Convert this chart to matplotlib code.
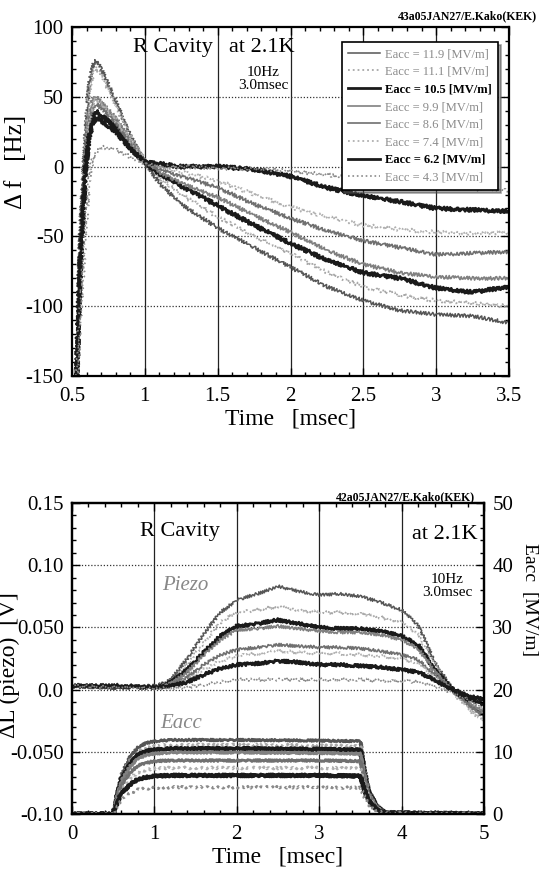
import matplotlib
matplotlib.use('Agg')
import matplotlib.pyplot as plt
from matplotlib.ticker import MultipleLocator, FixedLocator, FixedFormatter

plt.rcParams['font.family'] = ['Liberation Serif', 'DejaVu Serif']
plt.rcParams['axes.unicode_minus'] = False

# ---------------- data ----------------
EACC = [11.9, 11.1, 10.5, 9.9, 8.6, 7.4, 6.2, 4.3]

# top chart: detuning Δf [Hz] vs time [msec]
F_T = [0.53, 0.555, 0.59, 0.615, 0.64, 0.665, 0.7, 0.8, 0.9, 1.0, 1.1, 1.25,
       1.5, 1.75, 2.0, 2.25, 2.5, 2.75, 3.0, 3.25, 3.5]
DF_119 = [-155, -50, 19, 57, 72, 76, 70, 47, 22, 3, -12, -27, -44, -58, -72, -86, -96, -103, -106, -107, -112]
DF_111 = [-155, -60, 10, 50, 66, 71, 66, 44, 22, 4, -8, -20, -36, -50, -62, -76, -86, -92, -96, -98, -100]
DF_105 = [-155, -70, 0, 25, 35, 40, 37, 28, 15, 3, -5, -14, -28, -42, -55, -67, -76, -80, -87, -90, -86]
DF_99 = [-155, -65, 5, 35, 47, 50, 46, 35, 18, 4, -4, -12, -22, -35, -47, -60, -70, -76, -79, -80, -80]
DF_86 = [-155, -68, 2, 30, 42, 45, 42, 32, 17, 4, -2, -7, -15, -27, -37, -46, -53, -58, -63, -62, -61]
DF_74 = [-155, -66, 4, 33, 45, 48, 45, 34, 18, 5, 0, -4, -10, -20, -29, -36, -42, -45, -47, -48, -47]
DF_62 = [-155, -75, -5, 20, 30, 35, 33, 25, 13, 3, 2, 0, 0, -2, -7, -15, -21, -25, -30, -31, -32]
DF_43 = [-160, -110, -50, -10, 5, 10, 14, 12, 7, 2, 0, 0, -1, -2, -3, -6, -9, -12, -14, -16, -17]
DF_ALL = [DF_119, DF_111, DF_105, DF_99, DF_86, DF_74, DF_62, DF_43]

# bottom chart: piezo signal ΔL [V] vs time [msec]
P_T = [0, 0.5, 1.0, 1.2, 1.4, 1.6, 1.8, 2.0, 2.25, 2.5, 2.75, 3.0, 3.25, 3.5,
       3.75, 4.0, 4.2, 4.4, 4.6, 4.8, 5.0]
PZ_119 = [0.003, 0.004, 0.002, 0.008, 0.025, 0.045, 0.062, 0.072, 0.077, 0.083, 0.079, 0.076, 0.077, 0.075, 0.070, 0.064, 0.052, 0.022, 0.002, -0.012, -0.020]
PZ_111 = [0.004, 0.003, 0.003, 0.007, 0.020, 0.038, 0.054, 0.062, 0.064, 0.067, 0.064, 0.062, 0.062, 0.061, 0.058, 0.054, 0.045, 0.020, 0.001, -0.014, -0.024]
PZ_105 = [0.003, 0.002, 0.002, 0.006, 0.016, 0.030, 0.043, 0.051, 0.053, 0.056, 0.053, 0.050, 0.049, 0.049, 0.047, 0.043, 0.036, 0.016, 0.001, -0.005, -0.008]
PZ_99 = [0.002, 0.003, 0.003, 0.005, 0.014, 0.028, 0.040, 0.048, 0.049, 0.051, 0.049, 0.047, 0.046, 0.046, 0.044, 0.040, 0.033, 0.015, 0.000, -0.010, -0.018]
PZ_86 = [0.003, 0.002, 0.002, 0.004, 0.010, 0.020, 0.028, 0.032, 0.034, 0.036, 0.035, 0.034, 0.034, 0.033, 0.031, 0.028, 0.024, 0.012, 0.000, -0.012, -0.022]
PZ_74 = [0.002, 0.003, 0.002, 0.004, 0.008, 0.016, 0.023, 0.027, 0.029, 0.031, 0.030, 0.029, 0.029, 0.028, 0.027, 0.025, 0.021, 0.010, -0.001, -0.015, -0.026]
PZ_62 = [0.003, 0.003, 0.002, 0.003, 0.006, 0.012, 0.017, 0.020, 0.021, 0.023, 0.022, 0.020, 0.020, 0.019, 0.018, 0.016, 0.014, 0.008, 0.000, -0.008, -0.012]
PZ_43 = [0.003, 0.002, 0.001, 0.001, 0.002, 0.004, 0.006, 0.008, 0.008, 0.008, 0.008, 0.008, 0.008, 0.008, 0.007, 0.007, 0.006, 0.003, -0.002, -0.008, -0.015]
PZ_ALL = [PZ_119, PZ_111, PZ_105, PZ_99, PZ_86, PZ_74, PZ_62, PZ_43]

# bottom chart: accelerating field Eacc [MV/m] vs time [msec]
E_T = [0, 0.5, 0.55, 0.6, 0.7, 0.8, 0.9, 1.0, 1.2, 2.0, 3.0, 3.5, 3.55, 3.6, 3.7, 3.8, 5.0]
EA_119 = [0, 0, 3.6, 6.3, 9.1, 10.7, 11.4, 11.7, 11.9, 11.9, 11.8, 11.7, 7.5, 4.0, 1.4, 0.2, 0]
EA_111 = [0, 0, 3.4, 5.9, 8.5, 10.0, 10.6, 10.9, 11.1, 11.1, 11.0, 10.9, 7.0, 3.7, 1.3, 0.2, 0]
EA_105 = [0, 0, 3.2, 5.6, 8.0, 9.5, 10.1, 10.3, 10.5, 10.5, 10.4, 10.3, 6.6, 3.5, 1.2, 0.2, 0]
EA_99 = [0, 0, 3.0, 5.3, 7.6, 8.9, 9.5, 9.7, 9.9, 9.9, 9.8, 9.7, 6.2, 3.3, 1.1, 0.2, 0]
EA_86 = [0, 0, 2.6, 4.6, 6.6, 7.8, 8.2, 8.5, 8.6, 8.6, 8.6, 8.5, 5.4, 2.9, 1.0, 0.1, 0]
EA_74 = [0, 0, 2.2, 3.9, 5.7, 6.7, 7.1, 7.3, 7.4, 7.4, 7.4, 7.3, 4.7, 2.5, 0.9, 0.1, 0]
EA_62 = [0, 0, 1.9, 3.3, 4.7, 5.6, 5.9, 6.1, 6.2, 6.2, 6.2, 6.1, 3.9, 2.1, 0.7, 0.1, 0]
EA_43 = [0, 0, 1.3, 2.3, 3.3, 3.9, 4.1, 4.2, 4.3, 4.3, 4.3, 4.2, 2.7, 1.5, 0.5, 0.1, 0]
EA_ALL = [EA_119, EA_111, EA_105, EA_99, EA_86, EA_74, EA_62, EA_43]

F_XTICKS = [0.5, 1, 1.5, 2, 2.5, 3, 3.5]
F_XLABELS = ['0.5', '1', '1.5', '2', '2.5', '3', '3.5']
F_YTICKS = [-150, -100, -50, 0, 50, 100]
P_XTICKS = [0, 1, 2, 3, 4, 5]
P_YTICKS = [-0.10, -0.05, 0.0, 0.05, 0.10, 0.15]
P_YLABELS = ['-0.10', '-0.050', '0.0', '0.050', '0.10', '0.15']
E_YTICKS = [0, 10, 20, 30, 40, 50]

# ---------------- styles ----------------
STYLES = [
    dict(color='#555555', lw=1.1, ls='-'),
    dict(color='#a8a8a8', lw=1.3, ls=':'),
    dict(color='#1a1a1a', lw=2.0, ls='-'),
    dict(color='#808080', lw=1.2, ls='-'),
    dict(color='#707070', lw=1.2, ls='-'),
    dict(color='#b0b0b0', lw=1.3, ls=':'),
    dict(color='#1a1a1a', lw=2.0, ls='-'),
    dict(color='#8a8a8a', lw=1.2, ls=':'),
]
BOLD = [False, False, True, False, False, False, True, False]
TICK_FS = 15

W, H = 539, 877
fig = plt.figure(figsize=(W / 100, H / 100), dpi=100)


def frac(x0, y0, x1, y1):
    return [x0 / W, 1 - y1 / H, (x1 - x0) / W, (y1 - y0) / H]


def style_axes(ax):
    for s in ax.spines.values():
        s.set_linewidth(1.6)
    ax.tick_params(which='both', direction='in', top=True, right=True,
                   labelsize=TICK_FS, width=1.0)
    ax.tick_params(which='major', length=6)
    ax.tick_params(which='minor', length=3)
    ax.tick_params(axis='x', which='major', pad=8)
    ax.tick_params(axis='y', which='major', pad=6)


# ---------------- top chart ----------------
AX1_L, AX1_R, AX1_T, AX1_B = 72, 509, 27, 376
ax1 = fig.add_axes(frac(AX1_L, AX1_T, AX1_R, AX1_B))
for t_series, st in zip(DF_ALL, STYLES):
    ln, = ax1.plot(F_T, t_series, **st)
    ln.set_sketch_params(scale=1.8, length=3, randomness=2)
ax1.set_xlim(0.5, 3.5)
ax1.set_ylim(-150, 100)
ax1.xaxis.set_major_locator(FixedLocator(F_XTICKS))
ax1.xaxis.set_major_formatter(FixedFormatter(F_XLABELS))
ax1.xaxis.set_minor_locator(MultipleLocator(0.1))
ax1.yaxis.set_major_locator(FixedLocator(F_YTICKS))
ax1.yaxis.set_minor_locator(MultipleLocator(10))
style_axes(ax1)
for xv in F_XTICKS[1:-1]:
    ax1.axvline(xv, color='#222222', lw=0.9, zorder=0.5)
for yv in F_YTICKS[1:-1]:
    ax1.axhline(yv, color='#333333', lw=0.9, ls=(0, (1, 1.5)), zorder=0.5)
ax1.set_xlabel('Time   [msec]', fontsize=17, labelpad=2)
fig.text(16 / W, 1 - 162 / H, 'Δ f   [Hz]', fontsize=18, rotation=90,
         ha='center', va='center')
aw1 = AX1_R - AX1_L
ah1 = AX1_B - AX1_T

ax1.text((133 - AX1_L) / aw1, (AX1_B - 38) / ah1, 'R Cavity',
         transform=ax1.transAxes, fontsize=16, ha='left', va='top')
ax1.text((229 - AX1_L) / aw1, (AX1_B - 38) / ah1, 'at 2.1K',
         transform=ax1.transAxes, fontsize=16, ha='left', va='top')
ax1.text((263 - AX1_L) / aw1, (AX1_B - 66) / ah1, '10Hz\n3.0msec',
         transform=ax1.transAxes, fontsize=11, ha='center', va='top',
         linespacing=1.0)
fig.text(537 / W, 1 - 16 / H, '43a05JAN27/E.Kako(KEK)', fontsize=8.5,
         fontweight='bold', ha='right', va='center')

labels = ['Eacc = %.1f [MV/m]' % e for e in EACC]
handles = ax1.get_lines()[:len(EACC)]
leg = ax1.legend(handles, labels, loc='upper right',
                 bbox_to_anchor=(0.99, 0.975), fontsize=9, frameon=True,
                 fancybox=False, shadow=True, edgecolor='black',
                 handlelength=2.6, labelspacing=0.45, borderpad=0.5,
                 handletextpad=0.4)
leg.get_frame().set_linewidth(1.2)
for txt, b in zip(leg.get_texts(), BOLD):
    if b:
        txt.set_fontweight('bold')
        txt.set_color('black')
    else:
        txt.set_color('#8a8a8a')
for lh in leg.get_lines():
    lh.set_sketch_params(None)

# ---------------- bottom chart ----------------
AX2_L, AX2_R = 72, 484
ax2 = fig.add_axes(frac(AX2_L, 503, AX2_R, 814))
ax3 = ax2.twinx()
for p_series, st in zip(PZ_ALL, STYLES):
    ln, = ax2.plot(P_T, p_series, **st)
    ln.set_sketch_params(scale=1.5, length=3, randomness=2)
ax2.set_xlim(0, 5)
ax2.set_ylim(-0.10, 0.15)
ax2.xaxis.set_major_locator(FixedLocator(P_XTICKS))
ax2.xaxis.set_minor_locator(MultipleLocator(0.2))
ax2.yaxis.set_major_locator(FixedLocator(P_YTICKS))
ax2.yaxis.set_major_formatter(FixedFormatter(P_YLABELS))
ax2.yaxis.set_minor_locator(MultipleLocator(0.01))
style_axes(ax2)
ax2.tick_params(right=False, which='both')
for xv in P_XTICKS[1:-1]:
    ax2.axvline(xv, color='#222222', lw=0.9, zorder=0.5)
for yv in P_YTICKS[1:-1]:
    ax2.axhline(yv, color='#333333', lw=0.9, ls=(0, (1, 1.5)), zorder=0.5)
ax2.set_xlabel('Time   [msec]', fontsize=17, labelpad=2)

for e_series, st in zip(EA_ALL, STYLES):
    st2 = dict(st)
    st2['lw'] = st['lw'] + 0.8
    ln, = ax3.plot(E_T, e_series, **st2)
    ln.set_sketch_params(scale=1.0, length=3, randomness=2)
ax3.set_ylim(0, 50)
ax3.yaxis.set_major_locator(FixedLocator(E_YTICKS))
ax3.yaxis.set_minor_locator(MultipleLocator(2))
ax3.tick_params(which='both', direction='in', labelsize=TICK_FS, width=1.0)
ax3.tick_params(which='major', length=6, pad=6)
ax3.tick_params(which='minor', length=3)
for s in ax3.spines.values():
    s.set_linewidth(1.6)

fig.text(9 / W, 1 - 665 / H, 'ΔL (piezo)  [V]', fontsize=17, rotation=90,
         ha='center', va='center')
fig.text(529 / W, 1 - 600 / H, 'Eacc  [MV/m]', fontsize=14, rotation=270,
         ha='center', va='center')

aw2 = AX2_R - AX2_L
ax2.text((140 - AX2_L) / aw2, 0.94, 'R Cavity', transform=ax2.transAxes,
         fontsize=16, ha='left', va='top')
ax2.text(0.985, 0.93, 'at 2.1K', transform=ax2.transAxes, fontsize=16,
         ha='right', va='top')
ax2.text((447 - AX2_L) / aw2, 0.775, '10Hz\n3.0msec', transform=ax2.transAxes,
         fontsize=11, ha='center', va='top', linespacing=1.0)
ax2.text((162 - AX2_L) / aw2, 0.735, 'Piezo', transform=ax2.transAxes,
         fontsize=15, style='italic', color='#888888', ha='left', va='center')
ax2.text((160 - AX2_L) / aw2, 0.29, 'Eacc', transform=ax2.transAxes,
         fontsize=15, style='italic', color='#888888', ha='left', va='center')
fig.text(475 / W, 1 - 497 / H, '42a05JAN27/E.Kako(KEK)', fontsize=8.5,
         fontweight='bold', ha='right', va='center')

fig.savefig('out.png', dpi=100)
